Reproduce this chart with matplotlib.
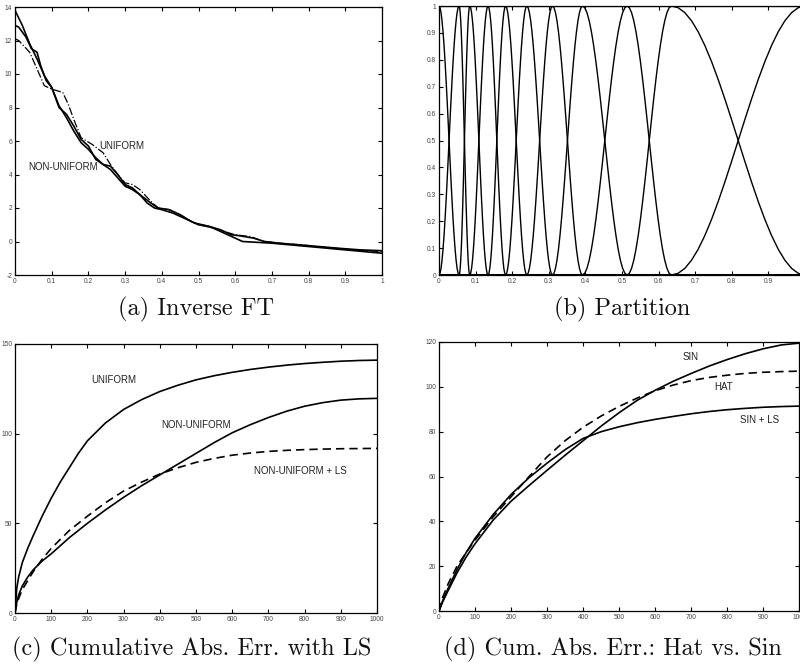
import matplotlib
matplotlib.use("Agg")
import matplotlib.pyplot as plt

# (a) inverse FT
a_x1 = [0, 0.02, 0.04, 0.06, 0.08, 0.1, 0.12, 0.14, 0.16, 0.18, 0.2, 0.22, 0.24, 0.26, 0.28, 0.3,
        0.32, 0.34, 0.36, 0.38, 0.4, 0.43, 0.46, 0.49, 0.52, 0.54, 0.57, 0.6, 0.62, 0.66, 0.7, 0.8, 0.9, 1.0]
a_y1 = [13.8, 12.9, 11.8, 10.9, 9.9, 9.2, 8.1, 7.4, 6.6, 5.9, 5.5, 5.0, 4.6, 4.3, 3.8, 3.3,
        3.1, 2.8, 2.3, 2.0, 1.9, 1.7, 1.4, 1.1, 0.95, 0.8, 0.5, 0.2, 0.0, -0.05, -0.1, -0.3, -0.5, -0.7]
a_x2 = [0, 0.01, 0.03, 0.045, 0.06, 0.07, 0.085, 0.1, 0.12, 0.14, 0.16, 0.18, 0.2, 0.22, 0.24, 0.26,
        0.28, 0.3, 0.32, 0.34, 0.37, 0.39, 0.42, 0.45, 0.48, 0.5, 0.53, 0.56, 0.59, 0.61, 0.65, 0.68,
        0.72, 0.8, 0.88, 0.94, 1.0]
a_y2 = [12.9, 12.8, 12.2, 11.5, 11.3, 10.5, 9.6, 9.2, 8.0, 7.6, 6.9, 6.1, 5.7, 4.9, 4.6, 4.5,
        4.0, 3.4, 3.2, 2.8, 2.3, 2.0, 1.9, 1.6, 1.2, 1.0, 0.9, 0.7, 0.4, 0.35, 0.2, 0.0,
        -0.1, -0.25, -0.4, -0.5, -0.55]
a_x3 = [0, 0.01, 0.04, 0.06, 0.08, 0.1, 0.13, 0.145, 0.16, 0.18, 0.21, 0.24, 0.26, 0.28, 0.3, 0.32,
        0.34, 0.37, 0.39, 0.42, 0.45, 0.48, 0.5, 0.54, 0.57, 0.6, 0.64, 0.68, 0.72, 0.78, 0.85, 0.92, 1.0]
a_y3 = [12.1, 12.0, 11.3, 10.3, 9.3, 9.1, 8.9, 8.2, 7.3, 6.2, 5.8, 5.3, 4.6, 4.0, 3.5, 3.4,
        3.1, 2.4, 2.0, 1.9, 1.6, 1.2, 1.0, 0.8, 0.6, 0.4, 0.3, 0.0, -0.1, -0.2, -0.35, -0.5, -0.6]

# (b) partition: node positions and the transition profile between nodes
nodes = [0, 0.055, 0.084, 0.134, 0.182, 0.240, 0.310, 0.392, 0.514, 0.635, 1.0]
fall = [1, 0.99384, 0.97553, 0.94550, 0.90451, 0.85355, 0.79389, 0.72700, 0.65451, 0.57822, 0.5,
        0.42178, 0.34549, 0.27300, 0.20611, 0.14645, 0.09549, 0.05450, 0.02447, 0.00616, 0]

# (c) cumulative abs. error with LS
c_x = [0, 5, 10, 20, 35, 50, 75, 100, 125, 150, 175, 200, 250, 300, 350, 400, 450, 500,
       550, 600, 650, 700, 750, 800, 850, 900, 950, 1000]
c_uni = [0, 14, 20, 28, 36, 43, 54, 64, 73, 81, 89, 96, 106, 113.5, 119, 123.5, 127, 130,
         132.3, 134.2, 135.8, 137.1, 138.2, 139.1, 139.8, 140.4, 140.8, 141]
c_non = [0, 6, 10, 15, 20, 24, 29, 33, 37.5, 42, 46, 50, 57.5, 64.5, 71, 77, 83, 89,
         95, 100.5, 105, 109, 112.5, 115.3, 117.3, 118.7, 119.4, 119.7]
c_ls = [0, 5, 8, 13, 18, 23, 30, 36, 41, 46, 50, 54, 61.5, 68, 73, 77.5, 81, 84,
        86.2, 88, 89.2, 90.1, 90.7, 91.1, 91.4, 91.6, 91.7, 91.8]

# (d) hat vs sin
d_x = [0, 10, 25, 50, 75, 100, 150, 200, 250, 300, 350, 400, 450, 500, 550, 600, 650, 700,
       750, 800, 850, 900, 950, 1000]
d_sin = [0, 4, 9, 17, 24, 30, 40.5, 49, 56, 62.8, 69.5, 76, 82.5, 88.5, 94, 98.5, 102.5, 106,
         109.3, 112.2, 114.8, 117, 118.7, 119.5]
d_sinls = [0, 4.5, 10, 18.5, 26, 32.4, 43, 52, 59.5, 66, 72, 77, 80, 82.2, 84, 85.5, 86.8, 88,
           89, 89.8, 90.4, 90.9, 91.2, 91.4]
d_hat = [0, 6, 12, 20, 26, 31.6, 42, 51, 60, 68.8, 76, 82, 87, 91.3, 95, 98.3, 100.8, 102.8,
         104.2, 105.2, 106, 106.5, 106.8, 107]

tick_font = dict(family="Liberation Sans", size=4.8, color="#444444")
label_font = dict(family="Liberation Sans", size=7, color="#222222")
cap_font = dict(family="cmr10", size=17.5, color="#111111")


def style(ax, xlim, ylim, xticks, yticks, xlabels, ylabels):
    ax.set_xlim(*xlim)
    ax.set_ylim(*ylim)
    ax.set_xticks(xticks)
    ax.set_yticks(yticks)
    ax.set_xticklabels(xlabels, fontdict=tick_font)
    ax.set_yticklabels(ylabels, fontdict=tick_font)
    ax.tick_params(direction="in", length=3, width=0.8, top=True, right=True, pad=2)
    for s in ax.spines.values():
        s.set_linewidth(0.9)


fig = plt.figure(figsize=(8, 6.64), dpi=100)
W, H = 800.0, 664.0


def box(l, t, r, b):
    return [l / W, 1 - b / H, (r - l) / W, (b - t) / H]


lw = 1.2

# (a)
ax = fig.add_axes(box(15, 7, 382, 275))
ax.plot(a_x3, a_y3, color="k", lw=0.9, ls="-.")
ax.plot(a_x2, a_y2, color="k", lw=lw)
ax.plot(a_x1, a_y1, color="k", lw=lw)
ax.text(0.292, 5.73, "UNIFORM", ha="center", va="center", **label_font)
ax.text(0.132, 4.43, "NON-UNIFORM", ha="center", va="center", **label_font)
xt = [i / 10 for i in range(11)]
style(ax, (0, 1), (-2, 14), xt, range(-2, 15, 2),
      ["0"] + ["%.1f" % v for v in xt[1:-1]] + ["1"], [str(v) for v in range(-2, 15, 2)])

# (b)
ax = fig.add_axes(box(439, 6, 805, 275))
n = len(fall) - 1
for k in range(len(nodes)):
    xs, ys = [], []
    if k > 0:
        a, b = nodes[k - 1], nodes[k]
        xs = [0.0, a] + [a + (b - a) * i / n for i in range(n + 1)]
        ys = [0.0, 0.0] + [1 - f for f in fall]
    if k < len(nodes) - 1:
        a, b = nodes[k], nodes[k + 1]
        xs += [a + (b - a) * i / n for i in range(n + 1)] + [1.0]
        ys += list(fall) + [0.0]
    ax.plot(xs, ys, color="k", lw=1.0)
ax.axhline(0, color="k", lw=2.2)
ax.axhline(1, color="k", lw=1.6)
yt = [i / 10 for i in range(11)]
style(ax, (0, 1), (0, 1), xt, yt,
      ["0"] + ["%.1f" % v for v in xt[1:-1]] + ["1"], ["0"] + ["%.1f" % v for v in yt[1:-1]] + ["1"])

# (c)
ax = fig.add_axes(box(15, 344, 377, 613))
ax.plot(c_x, c_uni, color="k", lw=lw)
ax.plot(c_x, c_non, color="k", lw=lw)
ax.plot(c_x, c_ls, color="k", lw=lw, ls=(0, (5, 3)))
ax.text(273, 130, "UNIFORM", ha="center", va="center", **label_font)
ax.text(501, 105, "NON-UNIFORM", ha="center", va="center", **label_font)
ax.text(789, 79, "NON-UNIFORM + LS", ha="center", va="center", **label_font)
style(ax, (0, 1000), (0, 150), range(0, 1001, 100), [0, 50, 100, 150],
      [str(v) for v in range(0, 1001, 100)], ["0", "50", "100", "150"])

# (d)
ax = fig.add_axes(box(439, 342, 799.5, 611))
ax.plot(d_x, d_sin, color="k", lw=lw)
ax.plot(d_x, d_sinls, color="k", lw=lw)
ax.plot(d_x, d_hat, color="k", lw=lw, ls=(0, (5, 3)))
ax.text(698, 113.3, "SIN", ha="center", va="center", **label_font)
ax.text(789, 100, "HAT", ha="center", va="center", **label_font)
ax.text(889, 85, "SIN + LS", ha="center", va="center", **label_font)
style(ax, (0, 1000), (0, 120), range(0, 1001, 100), range(0, 121, 20),
      [str(v) for v in range(0, 1001, 100)], [str(v) for v in range(0, 121, 20)])

fig.text(196 / W, 1 - 309 / H, "(a) Inverse FT", ha="center", va="center", **cap_font)
fig.text(622 / W, 1 - 309 / H, "(b) Partition", ha="center", va="center", **cap_font)
fig.text(192 / W, 1 - 649 / H, "(c) Cumulative Abs. Err. with LS", ha="center", va="center", **cap_font)
fig.text(613 / W, 1 - 649 / H, "(d) Cum. Abs. Err.: Hat vs. Sin", ha="center", va="center", **cap_font)

fig.savefig("out.png", dpi=100)
